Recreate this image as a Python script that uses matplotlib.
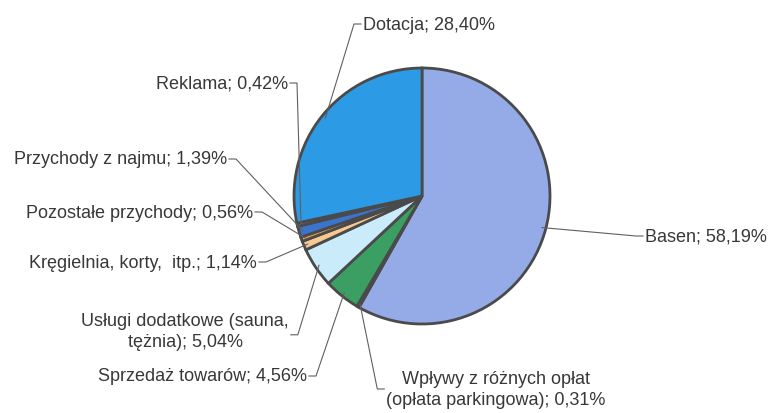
import numpy as np
import matplotlib.pyplot as plt

plt.rcParams['font.family'] = ['Liberation Sans', 'DejaVu Sans']

labels = ['Basen', 'Wpływy z różnych opłat\n(opłata parkingowa)', 'Sprzedaż towarów',
          'Usługi dodatkowe (sauna,\ntężnia)', 'Kręgielnia, korty,  itp.',
          'Pozostałe przychody', 'Przychody z najmu', 'Reklama', 'Dotacja']
values = [58.19, 0.31, 4.56, 5.04, 1.14, 0.56, 1.39, 0.42, 28.40]
colors = ['#95abe8', '#b07a98', '#3b9f63', '#c9ebfa', '#f6c892',
          '#e89a50', '#3a74cc', '#c8506e', '#2d9ae6']

W, H = 770, 414
cx, cy, r = 422, H - 197, 128

# text anchor (image px), ha, relative y of line start
label_pos = [
    ((645, 237), 'left', 0.5),
    ((496, 390), 'center', 0.5),
    ((307, 377), 'right', 0.5),
    ((185, 332), 'center', 0.6),
    ((257, 263), 'right', 0.5),
    ((253, 213), 'right', 0.5),
    ((227, 160), 'right', 0.5),
    ((288, 84), 'right', 0.5),
    ((363, 25), 'left', 0.5),
]

fig = plt.figure(figsize=(W / 100, H / 100), dpi=100)
ax = fig.add_axes([0, 0, 1, 1])
ax.set_xlim(0, W)
ax.set_ylim(0, H)
wedges, _ = ax.pie(values, colors=colors, startangle=90, counterclock=False,
                   center=(cx, cy), radius=r,
                   wedgeprops=dict(edgecolor='#4a4a4a', linewidth=2))
ax.set_xlim(0, W)
ax.set_ylim(0, H)
ax.set_aspect('equal')
ax.axis('off')

texts = []
for lab, v, (pos, ha, ry) in zip(labels, values, label_pos):
    txt = f"{lab}; " + f"{v:.2f}%".replace('.', ',')
    t = ax.text(pos[0], H - pos[1], txt, ha=ha, va='center',
                multialignment='center', fontsize=13, color='#383838',
                linespacing=1.3)
    texts.append(t)

fig.canvas.draw()
rend = fig.canvas.get_renderer()
inv = ax.transData.inverted()
for w, t, (pos, ha, ry) in zip(wedges, texts, label_pos):
    ang = np.deg2rad((w.theta1 + w.theta2) / 2)
    px, py = cx + 0.97 * r * np.cos(ang), cy + 0.97 * r * np.sin(ang)
    bb = t.get_window_extent(rend).transformed(inv)
    y0 = bb.y1 - ry * (bb.y1 - bb.y0)
    if px > bb.x1:
        xs = [bb.x1 + 2, bb.x1 + 9, px]
    else:
        xs = [bb.x0 - 2, bb.x0 - 9, px]
    ax.plot(xs, [y0, y0, py], color='#606060', lw=0.8)

fig.savefig('out.png', dpi=100)
